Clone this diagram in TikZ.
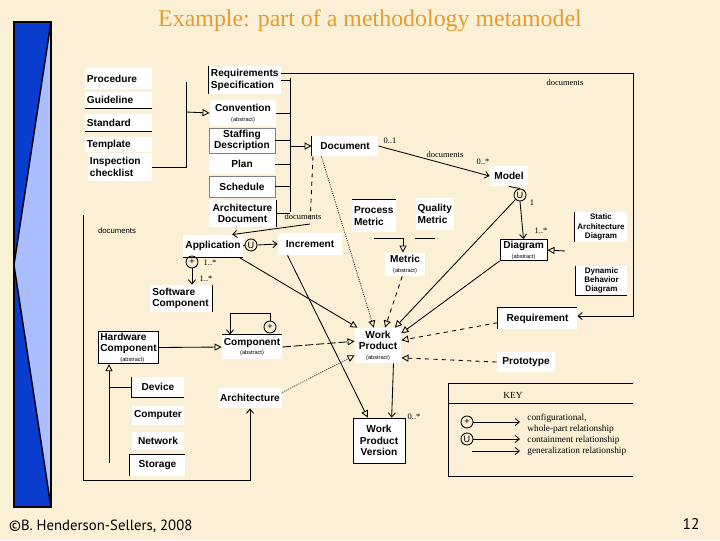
\documentclass[tikz,border=0pt]{standalone}
\usepackage{fontspec}
\setmainfont{Liberation Serif}
\newfontfamily\arialf{Liberation Sans}
\newfontfamily\footf{PT Sans}
\usetikzlibrary{arrows.meta}
\definecolor{Paper}{RGB}{251,240,214}
\definecolor{TitleGold}{RGB}{224,158,48}
\definecolor{BarDark}{RGB}{10,60,205}
\definecolor{BarLight}{RGB}{170,190,255}
\newcommand{\abst}{{\mdseries\fontsize{4}{4.5}\selectfont(abstract)}}

\begin{document}
\begin{tikzpicture}[x=0.025cm, y=-0.025cm, line width=0.6pt,
    cls/.style={fill=white, inner sep=1pt, align=center, font=\arialf\bfseries\fontsize{7.2}{8}\selectfont},
    lft/.style={cls, align=left, inner xsep=0.05cm},
    sml/.style={cls, font=\arialf\bfseries\fontsize{5.7}{6.5}\selectfont},
    circ/.style={circle, draw, inner sep=0pt, minimum size=0.3cm, font=\arialf\fontsize{6.5}{7}\selectfont},
    lbl/.style={inner sep=0pt, font=\fontsize{6}{7}\selectfont},
    keytext/.style={inner sep=0pt, anchor=west, font=\fontsize{6.6}{7.5}\selectfont},
    gen/.style={-{Triangle[open, length=5pt, width=5pt]}},
    nav/.style={-{Straight Barb[length=3pt, width=5pt]}}
  ]
  \path[use as bounding box, fill=Paper] (0,0) rectangle (720,540);

  % side bar
  \fill[BarDark] (14,22) rectangle (51,507);
  \fill[BarLight] (51,22) -- (14,265) -- (51,507) -- cycle;
  \draw[line width=1.2pt] (14,22) rectangle (51,507);
  \draw[line width=1pt] (51,22) -- (14,265) -- (51,507);

  \node[font=\fontsize{17}{20}\selectfont, text=TitleGold] (title) at (370,21) {Example: part of a methodology metamodel};
  \node[font=\footf\fontsize{10.5}{12}\selectfont, anchor=west] (copy) at (4,526) {©B. Henderson-Sellers, 2008};
  \node[font=\footf\fontsize{11}{13}\selectfont] (pagenum) at (691,524) {12};

  % conventions and documents
  \node[lft, text width=1.575cm, minimum height=0.525cm] (procedure)  at (118.5,78.5)  {Procedure};
  \node[lft, text width=1.575cm, minimum height=0.4cm]   (guideline)  at (118.5,100)   {Guideline};
  \node[lft, text width=1.575cm, minimum height=0.425cm] (standard)   at (118.5,122.5) {Standard};
  \node[lft, text width=1.575cm, minimum height=0.375cm] (template)   at (118.5,144.5) {Template};
  \node[lft, text width=1.5cm,   minimum height=0.7cm]   (inspection) at (120,167)     {Inspection\\checklist};

  \node[lft, text width=1.7cm, minimum height=0.7cm]           (reqspec)    at (245,80)    {Requirements\\Specification};
  \node[cls, minimum width=1.65cm, minimum height=0.65cm]      (convention) at (243,113)   {Convention\\[-1pt]\abst};
  \node[cls, draw=gray, minimum width=1.65cm, minimum height=0.625cm] (staffing) at (242,140.5) {Staffing\\Description};
  \node[cls, minimum width=1.65cm, minimum height=0.5cm]       (plan)       at (242,164)   {Plan};
  \node[cls, draw=gray, minimum width=1.65cm, minimum height=0.525cm] (schedule) at (242,186.5) {Schedule};
  \node[cls, minimum width=1.675cm, minimum height=0.675cm]    (archdoc)    at (242.5,213.5) {Architecture\\Document};
  \node[cls, minimum width=1.65cm, minimum height=0.5cm]       (document)   at (345,146)   {Document};
  \node[cls, minimum width=0.95cm, minimum height=0.5cm]       (model)      at (509,176)   {Model};

  % metrics, application, components
  \node[lft, text width=1.0cm,  minimum height=0.8cm]  (procmetric) at (374,216) {Process\\Metric};
  \node[lft, text width=0.87cm, minimum height=0.8cm]  (qualmetric) at (435,214) {Quality\\Metric};
  \node[cls, minimum width=1.0cm, minimum height=0.575cm] (metric)  at (405,264.5) {Metric\\[-1pt]\abst};
  \node[cls, minimum width=1.5cm, minimum height=0.55cm]  (application) at (213,246) {Application};
  \node[cls, minimum width=1.6cm, minimum height=0.55cm]  (increment)   at (310,244) {Increment};
  \node[lft, text width=1.45cm, minimum height=0.675cm, anchor=west] (swcomp) at (150,298.5) {Software\\Component};
  \node[cls, minimum width=1.5cm, minimum height=0.6cm]   (component)   at (252,347) {Component\\[-1pt]\abst};
  \node[lft, draw, text width=1.4cm, minimum height=0.775cm, anchor=west] (hwcomp) at (98,347.5) {Hardware\\Component\\[-1pt]\hspace*{0.5cm}\abst};
  \node[cls, minimum width=1.3cm,   minimum height=0.5cm]   (device)   at (158,387)   {Device};
  \node[cls, minimum width=1.3cm,   minimum height=0.475cm] (computer) at (158,415.5) {Computer};
  \node[cls, minimum width=1.3cm,   minimum height=0.45cm]  (network)  at (158,441)   {Network};
  \node[cls, minimum width=1.375cm, minimum height=0.525cm] (storage)  at (157.5,465.5) {Storage};
  \node[cls, minimum width=1.6cm,   minimum height=0.5cm]   (architecture) at (250,398) {Architecture};

  % work products
  \node[cls, minimum width=1.15cm, minimum height=0.875cm] (workproduct) at (378,345.5) {Work\\Product\\[-1pt]\abst};
  \node[cls, draw, minimum width=1.3cm, minimum height=1.125cm] (wpversion) at (379,440.5) {Work\\Product\\Version};
  \node[sml, minimum width=1.3cm,   minimum height=0.75cm]  (staticdiag) at (601,227)   {Static\\Architecture\\Diagram};
  \node[sml, minimum width=1.275cm, minimum height=0.675cm] (dyndiag)    at (601.5,280.5) {Dynamic\\Behavior\\Diagram};
  \node[cls, draw, minimum width=1.175cm, minimum height=0.5cm] (diagram) at (523.5,250) {Diagram\\[-1pt]\abst};
  \node[cls, minimum width=1.975cm, minimum height=0.525cm] (requirement) at (537.5,318.5) {Requirement};
  \node[cls, minimum width=1.45cm,  minimum height=0.5cm]   (prototype)   at (526,362)     {Prototype};

  % partial box edges
  \draw (guideline.south west) -- (guideline.south east);
  \draw (standard.south west) -- (standard.south east);
  \draw (reqspec.north west) -- (reqspec.south west);
  \draw (archdoc.north east) -- (archdoc.south east);
  \draw (document.north west) -- (document.south west);
  \draw (procmetric.north west) -- (procmetric.north east);
  \draw (application.south west) -- (application.south east);
  \draw (swcomp.north east) -- (swcomp.south east);
  \draw (component.north west) -- (component.north east);
  \draw (device.north west) -- (device.south west) -- (device.south east);
  \draw (storage.south west) -- (storage.north west) -- (storage.north east);
  \draw (staticdiag.north west) -- (staticdiag.south west);
  \draw (dyndiag.north west) -- (dyndiag.south west) -- (dyndiag.south east);
  \draw (requirement.south west) -- (requirement.north west) -- (requirement.north east);

  % relation symbols
  \node[circ] (umodel) at (520,195) {U};
  \node[circ] (uapp)   at (251,245) {U};
  \node[circ] (papp)   at (192,262) {+};
  \node[circ] (pcomp)  at (270,327) {+};

  \coordinate (cbt) at (186,82);
  \coordinate (cbm) at (186,112);
  \coordinate (dbt) at (290,78);
  \coordinate (dbb) at (290,212);
  \coordinate (dd)  at (310,224);
  \coordinate (tr1) at (633,73);
  \coordinate (tr2) at (633,316);
  \coordinate (lp1) at (83,215);
  \coordinate (lp2) at (83,480);
  \coordinate (pmj) at (403,238);
  \coordinate (clp) at (230,313);
  \coordinate (ht)  at (109,463);
  \coordinate (sdj) at (565,251);

  % generalizations
  \draw (inspection.east) -- (inspection.east -| cbt) -- (cbt);
  \draw[gen] (cbm) -- (convention.west);
  \draw (dbt) -- (dbb);
  \foreach \n in {reqspec,convention,staffing,plan,schedule,archdoc}
    \draw (\n.east) -- (\n.east -| dbt);
  \draw[gen] (dbt |- document.west) -- (document.west);
  \draw (procmetric.south |- pmj) -- (pmj);
  \draw[gen] (pmj) -- (pmj |- metric.north);
  \draw (qualmetric.south west |- pmj) -- (qualmetric.south |- pmj);
  \draw[gen] (hwcomp.east) -- (component.west);
  \draw[gen] (ht) -- (ht |- hwcomp.south);
  \draw (ht |- device.west) -- (device.west);
  \draw[gen] (sdj) -- (diagram.east);

  % into work product
  \draw[gen] ([xshift=-3pt]application.south east) -- ([xshift=2pt]workproduct.north west);
  \draw[gen, densely dotted] ([xshift=7pt]document.south west) -- ([xshift=-3pt]workproduct.north);
  \draw[gen, dashed] ([xshift=-2pt]metric.south) -- ([xshift=5pt]workproduct.north);
  \draw[gen] (umodel.south west) -- ([xshift=12pt]workproduct.north);
  \draw[gen] (diagram.south west) -- ([yshift=-4pt]workproduct.north east);
  \draw[gen, dashed] ([yshift=-3pt]requirement.west) -- ([yshift=-9pt]workproduct.north east);
  \draw[gen, dashed] (prototype.west) -- ([yshift=4pt]workproduct.south east);
  \draw[gen, dash pattern=on 6pt off 2pt] (component.east) -- ([yshift=3pt]workproduct.west);
  \draw[gen, densely dotted] ([yshift=4pt]architecture.east) -- ([yshift=-7pt]workproduct.west);
  \draw[gen] ([xshift=-16pt]increment.south) -- ([xshift=-8pt]wpversion.north);
  \draw[nav] ([xshift=11pt]workproduct.south) -- ([xshift=9pt]wpversion.north);
  \node[lbl] (lwpv) at (414,417) {0..*};

  % associations
  \draw[dashed] ([xshift=1pt]document.south west) -- (dd);
  \draw[nav] (dd) -- ([xshift=-8pt]application.north east);
  \node[lbl] (lmid) at (303,217) {documents};
  \draw[nav] (document.east) -- (model.west);
  \node[lbl] (ldm1) at (390,141) {0..1};
  \node[lbl] (ldm2) at (445,155) {documents};
  \node[lbl] (ldm3) at (483,162) {0..*};
  \draw[nav] (reqspec.east |- tr1) -- (tr1) -- (tr2) -- (requirement.east |- tr2);
  \node[lbl] (ltop) at (565,83) {documents};
  \draw[nav] (lp1) -- (lp2) -- (lp2 -| architecture.south) -- (architecture.south);
  \node[lbl, font=\arialf\fontsize{5.5}{6}\selectfont] (lleft) at (117,231) {documents};
  \draw (model.south) -- (umodel.north);
  \draw[nav] (umodel.south) -- (diagram.north);
  \node[lbl] (lm1) at (532,203) {1};
  \node[lbl] (lm2) at (541,231) {1..*};
  \draw (application.east) -- (uapp.west);
  \draw[nav] (uapp.east) -- (increment.west);
  \draw[nav] (papp.south) -- (papp |- swcomp.north);
  \node[lbl] (la1) at (210,263) {1..*};
  \node[lbl] (la2) at (206,279) {1..*};
  \draw[nav] (pcomp.north) |- (clp) -- (clp |- component.north);

  % key
  \draw (448,476) -- (448,383) -- (633,383);
  \draw (448,403) -- (633,403);
  \draw (448,476) -- (633,476);
  \node[lbl, font=\fontsize{6.6}{7.5}\selectfont] (keyhead) at (513,395) {KEY};
  \node[circ] (pkey) at (467,422) {+};
  \node[circ] (ukey) at (467,439) {U};
  \coordinate (ka) at (520,422);
  \coordinate (kb) at (520,439);
  \coordinate (kc0) at (472,451);
  \coordinate (kc) at (520,451);
  \draw[nav] (pkey.east) -- (ka);
  \draw[nav] (ukey.east) -- (kb);
  \draw[nav] (kc0) -- (kc);
  \node[keytext] (k1) at (527,418) {configurational,};
  \node[keytext] (k2) at (527,429) {whole-part relationship};
  \node[keytext] (k3) at (527,440) {containment relationship};
  \node[keytext] (k4) at (527,451) {generalization relationship};
\end{tikzpicture}
\end{document}
